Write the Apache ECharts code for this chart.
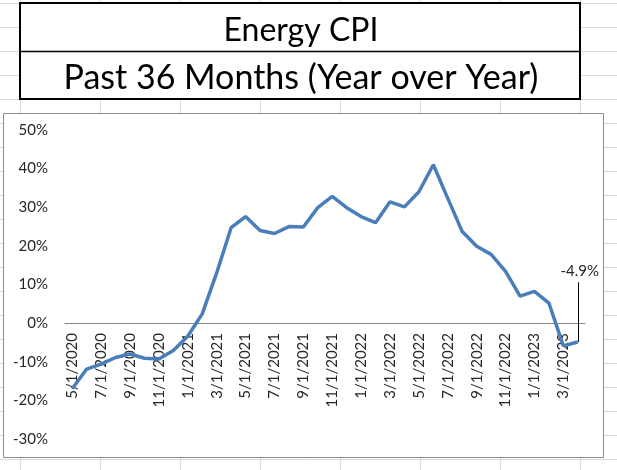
<!DOCTYPE html>
<html>
<head>
<meta charset="utf-8">
<script src="https://cdn.jsdelivr.net/npm/echarts@6/dist/echarts.min.js"></script>
<style>
html,body{margin:0;padding:0;background:#fff;}
#chart{width:617px;height:470px;}
</style>
</head>
<body>
<div id="chart"></div>
<script>
var titleLine1 = 'Energy CPI';
var titleLine2 = 'Past 36 Months (Year over Year)';
var months = ['5/1/2020','6/1/2020','7/1/2020','8/1/2020','9/1/2020','10/1/2020','11/1/2020','12/1/2020',
  '1/1/2021','2/1/2021','3/1/2021','4/1/2021','5/1/2021','6/1/2021','7/1/2021','8/1/2021','9/1/2021','10/1/2021','11/1/2021','12/1/2021',
  '1/1/2022','2/1/2022','3/1/2022','4/1/2022','5/1/2022','6/1/2022','7/1/2022','8/1/2022','9/1/2022','10/1/2022','11/1/2022','12/1/2022',
  '1/1/2023','2/1/2023','3/1/2023','4/1/2023'];
var energyYoY = [-17.0,-11.9,-10.6,-8.9,-8.0,-9.1,-9.3,-7.1,
  -3.4,2.4,13.0,24.7,27.6,24.0,23.2,25.0,24.9,29.9,32.8,29.9,
  27.6,26.0,31.4,30.1,34.0,41.0,32.3,23.7,19.9,17.8,13.4,7.0,
  8.2,5.2,-5.9,-4.9];
var yTicks = {min:-30, max:50, step:10};

var chart = echarts.init(document.getElementById('chart'), null, {renderer:'canvas'});

var bg = [];
var colsX = [20,100,180,260,340,420,500,580];
colsX.forEach(function(x){
  bg.push({type:'line', z:-20, shape:{x1:x+0.5,y1:0,x2:x+0.5,y2:470}, style:{stroke:'#dadada',lineWidth:1}});
});
for (var y=3; y<470; y+=24){
  bg.push({type:'line', z:-20, shape:{x1:0,y1:y+0.5,x2:617,y2:y+0.5}, style:{stroke:'#dadada',lineWidth:1}});
}
// title box
bg.push({type:'rect', z:-5, shape:{x:20,y:3,width:560,height:96}, style:{fill:'#fff',stroke:'#000',lineWidth:2}});
bg.push({type:'line', z:-4, shape:{x1:20,y1:51.5,x2:580,y2:51.5}, style:{stroke:'#000',lineWidth:1.5}});
bg.push({type:'text', z:-3, style:{text:titleLine1, x:301, y:31, textAlign:'center', textVerticalAlign:'middle', font:'32px Lato', fill:'#000'}});
bg.push({type:'text', z:-3, style:{text:titleLine2, x:301, y:78, textAlign:'center', textVerticalAlign:'middle', font:'34px Lato', fill:'#000'}});
// chart frame
bg.push({type:'rect', z:-5, shape:{x:3.5,y:113.5,width:600,height:344}, style:{fill:'#fff',stroke:'#8c8c8c',lineWidth:1}});

var lastIdx = energyYoY.length - 1;
var lastVal = energyYoY[lastIdx];
var seriesData = energyYoY.map(function(v,i){
  if (i === lastIdx) {
    return {value:v, label:{show:true}};
  }
  return v;
});

chart.setOption({
  animation:false,
  graphic: bg,
  grid:{left:65, right:32, top:130, bottom:31, containLabel:false, outerBoundsMode:'none'},
  xAxis:{
    type:'category',
    data: months,
    boundaryGap:true,
    offset:-116,
    axisLine:{show:true, onZero:false, lineStyle:{color:'#868686', width:1}},
    axisTick:{show:false},
    axisLabel:{interval:1, rotate:90, margin:10, fontFamily:'Lato', fontSize:15, color:'#262626'},
    splitLine:{show:false}
  },
  yAxis:{
    type:'value',
    min:yTicks.min, max:yTicks.max, interval:yTicks.step,
    axisLine:{show:false},
    axisTick:{show:false},
    splitLine:{show:false},
    axisLabel:{margin:17, fontFamily:'Lato', fontSize:15, color:'#262626', formatter:function(v){return v+'%';}}
  },
  series:[{
    type:'line',
    data: seriesData,
    showSymbol:true,
    symbol:'circle',
    symbolSize:0,
    lineStyle:{color:'#4A7EBB', width:3.5},
    itemStyle:{color:'#4A7EBB'},
    label:{show:false, position:'top', distance:63, offset:[2,0], fontFamily:'Lato', fontSize:15, color:'#262626',
      formatter:function(p){return p.value.toFixed(1)+'%';}},
    markLine:{
      silent:true,
      symbol:'none',
      label:{show:false},
      lineStyle:{color:'#000', width:1, type:'solid'},
      data:[[{coord:[lastIdx, lastVal]},{coord:[lastIdx, lastVal + 15.5]}]]
    }
  }]
});
</script>
</body>
</html>
